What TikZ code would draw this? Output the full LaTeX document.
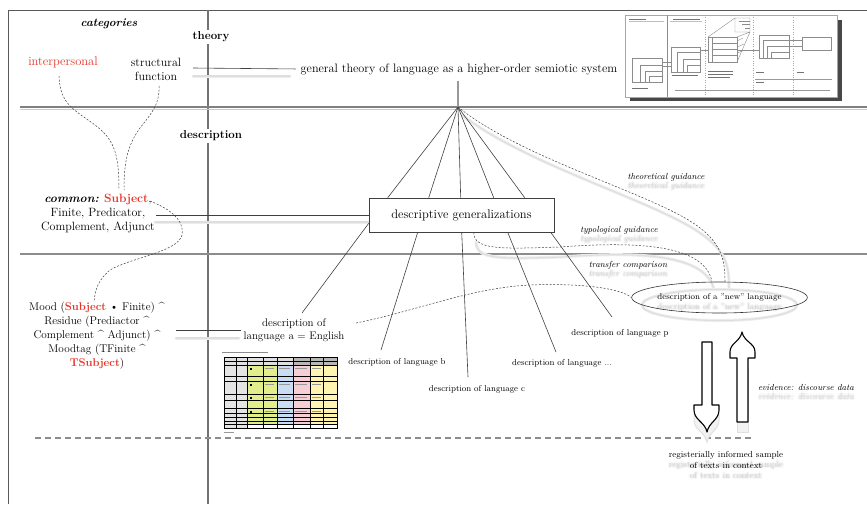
\documentclass[tikz,border=0pt]{standalone}
\usetikzlibrary{calc,shapes.geometric}
\definecolor{hired}{RGB}{228,52,40}
\definecolor{tgreen}{RGB}{226,238,140}
\definecolor{tblue}{RGB}{200,220,244}
\definecolor{tpink}{RGB}{248,206,214}
\definecolor{tyellow}{RGB}{255,244,176}
\definecolor{tgray}{RGB}{228,228,228}
% soft grey echo of a label, a few pixels below it
\newcommand\ghosttext[4]{%
  \foreach \gx/\gy [count=\gk] in {-1.1/0,1.1/0,0/-1.1,0/1.1,0/0}{%
    \node[#3,text=black!55,opacity=0.13] (#1\gk) at ($(#2)+(\gx,\gy)$) {#4};}}
\begin{document}
\begin{tikzpicture}[x=1pt,y=-1pt,
  txt/.style={font=\fontsize{12}{14}\selectfont, align=center, inner sep=1pt},
  lang/.style={font=\fontsize{8.6}{10}\selectfont, inner sep=1pt},
  guide/.style={font=\itshape\fontsize{8.8}{10}\selectfont, inner sep=1pt},
  hdr/.style={font=\bfseries\fontsize{11.5}{13}\selectfont, fill=white, inner sep=2pt},
  conn/.style={draw=black!75, line width=0.6pt},
  dlink/.style={draw=black!75, line width=0.5pt, dash pattern=on 2pt off 1.6pt},
  glow/.style={draw=black!7, line width=3pt, line cap=round},
  glowcore/.style={draw=black!13, line width=1.1pt, line cap=round},
  bigarrow/.style={draw=black, line width=1.1pt, fill=white, line join=round},
  thumb/.style={draw=black!45, line width=0.4pt},
  cellbar/.style={draw=black!40, line width=0.5pt},
]
\useasboundingbox (0,0) rectangle (867,504);
\fill[white] (0,0) rectangle (867,504);

% ---------- frame and dividers ----------
\draw[black!65, line width=0.8pt] (8,504) -- (8,10) -- (867,10);
\draw[black!55, line width=1.1pt] (208,10) -- (208,504);
\draw[black!20, line width=1pt] (20,109.5) -- (867,109.5);
\draw[black!50, line width=2pt] (20,107) -- (867,107);
\draw[black!45, line width=1.1pt] (20,254) -- (867,254);
\draw[black!45, line width=1.4pt, dash pattern=on 6pt off 4pt] (35,438) -- (751,438);

% ---------- model thumbnail ----------
\fill[black!72] (630,20) rectangle (842,101);
\filldraw[fill=white, draw=black!35, line width=0.4pt] (625,15) rectangle (837,97);
\draw[black!45, line width=0.4pt] (667,15) -- (667,97);
\draw[black!35, line width=0.4pt, dotted] (705,15) -- (705,97) (753,15) -- (753,97) (793,15) -- (793,97);
\draw[black!55, line width=0.8pt] (629,19) -- (646,19) (673,19) -- (700,19);
\draw[black!25, line width=0.4pt] (629,21.5) -- (664,21.5) (670,21.5) -- (702,21.5);
\draw[thumb] (632,58) rectangle (662,82) (640,65) rectangle (662,82) (645,71) rectangle (662,82) (649,76) rectangle (662,82);
\draw[thumb] (671,47) rectangle (700,72) (677,52) rectangle (700,72) (683,59) rectangle (700,72) (687,65) rectangle (700,72);
\draw[thumb] (662,62) -- (671,62) (662,66) -- (671,66);
\draw[thumb] (708,37) rectangle (737,62) (712,37) -- (712,62);
\draw[thumb] (712,43) -- (737,43) (712,49) -- (737,49) (712,55) -- (737,55);
\draw[thumb] (735,18) rectangle (750,32) (708,37) -- (735,18) (737,37) -- (750,32) (737,62) -- (750,32);
\draw[thumb] (739,21) -- (750,21) (742,24) -- (750,24) (745,28) -- (750,28);
\draw[thumb] (737,41) -- (743,38) (737,47) -- (744,44) (737,53) -- (745,50);
\draw[thumb] (700,50) -- (708,50) (737,50) -- (759,50);
\draw[thumb] (759,35) rectangle (789,58) (763,40) rectangle (789,58) (767,46) rectangle (789,58) (771,52) rectangle (789,58);
\draw[thumb] (789,40) -- (802,40) (789,46) -- (802,46);
\draw[thumb] (802,37) rectangle (831,50);
\draw[black!55, line width=0.8pt] (632,88) -- (648,88) (672,75) -- (698,75) (708,71) -- (733,71) (708,74) -- (733,74) (708,77) -- (730,77) (756,72) -- (764,72) (797,72) -- (804,72) (756,82) -- (764,82);
\draw[black!40, line width=0.4pt] (755,79) -- (832,79) (675,90) -- (830,90);

% ---------- English description table ----------
\draw[black!45, line width=0.6pt] (222,352) -- (268,352);
\fill[tgray] (224,357) rectangle (247,428);
\fill[tgreen] (247,365) rectangle (277,424);
\fill[tblue] (277,365) rectangle (293,424);
\fill[tpink] (293,365) rectangle (310,424);
\fill[tyellow] (310,365) rectangle (337,424);
\fill[black!28] (293,357) rectangle (337,365);
\fill[black!12] (224,357) rectangle (293,365);
\draw[black, line width=0.5pt] (224,357) rectangle (337,428);
\foreach \cx in {236,247,263,277,293,310,323}{\draw[black, line width=0.4pt] (\cx,357) -- (\cx,428);}
\foreach \ry in {361,365,376,381,394,400,408,413,417,421,424}{\draw[black, line width=0.4pt] (224,\ry) -- (337,\ry);}
\draw[black, line width=1pt] (224,365) -- (337,365) (224,417) -- (337,417) (224,424) -- (337,424);
\foreach \ry in {368,384,397,411}{
  \fill[black] (250,\ry) rectangle (252,\ry+1.5);
  \draw[cellbar] (265,\ry) -- (274,\ry) (279,\ry) -- (290,\ry) (295,\ry) -- (307,\ry) (312,\ry) -- (321,\ry);}
\draw[black!40, line width=0.5pt] (224,432) -- (234,432);

% ---------- soft echoes of lines and labels ----------
\draw[glow] (193,76) -- (290,76);
\draw[glowcore] (193,76) -- (290,76);
\draw[glow] (155,222) -- (369,222);
\draw[glowcore] (155,222) -- (369,222);
\draw[glow] (176,338) -- (239,338);
\draw[glowcore] (176,338) -- (239,338);
\draw[glow] (462,115) .. controls (524,163) and (644,198) .. (694,229) .. controls (726,249) and (729,264) .. (729,288);
\draw[glowcore] (462,115) .. controls (524,163) and (644,198) .. (694,229) .. controls (726,249) and (729,264) .. (729,288);
\draw[glow] (476,242) .. controls (476,260) and (502,259) .. (562,257) .. controls (642,251) and (707,255) .. (714,290);
\draw[glowcore] (476,242) .. controls (476,260) and (502,259) .. (562,257) .. controls (642,251) and (707,255) .. (714,290);
\draw[glow] (719.5,305) ellipse [x radius=77.5, y radius=15.5];
\draw[glowcore] (719.5,305) ellipse [x radius=77.5, y radius=15.5];
\filldraw[fill=black!5, draw=black!12, line width=1pt] (702,352) -- (712,352) -- (712,415) -- (719,415) -- (719,420) .. controls (719,430) and (709,432) .. (707,442) .. controls (705,432) and (694,430) .. (694,420) -- (694,415) -- (702,415) -- cycle;
\filldraw[fill=black!5, draw=black!12, line width=1pt] (737,432) -- (748,432) -- (748,368) -- (737,368) -- cycle;

\ghosttext{tgG}{666,186}{guide}{theoretical guidance}
\ghosttext{tygG}{619,239}{guide}{typological guidance}
\ghosttext{tcG}{628,274}{guide}{transfer comparison}
\ghosttext{evG}{806,396}{guide}{evidence: discourse data}
\ghosttext{newG}{719.5,307}{lang,font=\fontsize{8.4}{10}\selectfont}{description of a "new" language}
\ghosttext{smpG}{726,470}{lang,align=center,font=\fontsize{8.8}{11}\selectfont}{registerially informed sample\\of texts in context}

% ---------- labels ----------
\node[font=\bfseries\itshape\fontsize{11.5}{13}\selectfont] (cat) at (109,24) {categories};
\node[hdr] (thy) at (211,37) {theory};
\node[hdr] (dsc) at (211,136) {description};
\node[txt, text=hired, font=\fontsize{12.5}{14}\selectfont] (ip) at (63,62) {interpersonal};
\node[txt] (sf) at (156,69) {structural\\function};
\node[txt, font=\fontsize{12.2}{14}\selectfont] (gt) at (459,69) {general theory of language as a higher-order semiotic system};
\node[txt] (common) at (98,214) {\textbf{\textit{common:}} \textbf{\color{hired}Subject},\\Finite, Predicator,\\Complement, Adjunct};
\node[txt, font=\fontsize{12.5}{14}\selectfont, draw=black!75, line width=0.6pt, minimum width=185pt, minimum height=34pt, inner sep=0pt] (dg) at (461.5,215) {descriptive generalizations};
\node[txt, font=\fontsize{11.2}{14}\selectfont] (mood) at (97,336) {Mood (\textbf{\color{hired}Subject} \textbullet{} Finite) \textasciicircum\\Residue (Prediactor \textasciicircum\\Complement \textasciicircum{} Adjunct) \textasciicircum\\Moodtag (TFinite \textasciicircum\\\textbf{\color{hired}TSubject})};
\node[txt, font=\fontsize{11}{12.5}\selectfont] (la) at (294,330) {description of\\language a = English};
\node[lang] (lb) at (397,362) {description of language b};
\node[lang] (lc) at (477,389) {description of language c};
\node[lang] (ld) at (562,363) {description of language ...};
\node[lang] (lp) at (620,333) {description of language p};
\node[guide] (tg) at (666,177) {theoretical guidance};
\node[guide] (tyg) at (619,230) {typological guidance};
\node[guide] (tc) at (628,265) {transfer comparison};
\node[guide] (ev) at (806,387) {evidence: discourse data};
\node[lang, font=\fontsize{8.4}{10}\selectfont, ellipse, draw=black!80, line width=0.6pt, minimum width=155pt, minimum height=31pt, inner sep=0pt] (new) at (719.5,297.5) {description of a "new" language};
\node[lang, align=center, font=\fontsize{8.8}{11}\selectfont] (smp) at (726,460) {registerially informed sample\\of texts in context};

% ---------- connectors ----------
\coordinate (hub) at (458,107);
\coordinate (thyline) at (193,68);
\draw[black!40, line width=1.5pt] ($(gt.south -| hub)+(0,5)$) -- (hub);
\draw[conn, shorten >=4pt] (thyline) -- (gt.west);
\draw[conn] (common.east |- dg.west) -- (dg.west);
\coordinate (moodline) at (176,330);
\draw[conn, shorten >=1pt] (moodline) -- (la.west);
\foreach \dx in {19,60,92,125,156}{\draw[conn] (hub) -- ($(dg.north west)+(\dx,0)$);}
\coordinate (latop) at (302,313);
\coordinate (lbtop) at (381,350);
\coordinate (lctop) at (468,377);
\coordinate (ldtop) at (556,352);
\coordinate (lptop) at (612,317);
\draw[conn] ($(dg.south west)+(0,-9)$) -- (latop);
\draw[conn] ($(dg.south west)+(49,0)$) -- (lbtop);
\draw[conn] ($(dg.south west)+(93,0)$) -- (lctop);
\draw[conn] ($(dg.south west)+(139,0)$) -- (ldtop);
\draw[conn] ($(dg.south west)+(182,0)$) -- (lptop);

% dashed links between categories
\coordinate (ipfoot) at (59,76);
\coordinate (sffoot) at (159,86);
\coordinate (cm1) at (119,190);
\coordinate (cm2) at (124,190);
\draw[dlink] (ipfoot) .. controls (60,105) and (75,110) .. (95,125) .. controls (115,140) and (119,155) .. (cm1);
\draw[dlink] (sffoot) .. controls (160,105) and (150,115) .. (140,128) .. controls (128,145) and (124,160) .. (cm2);
\coordinate (subjend) at (150,201);
\coordinate (moodsubj) at (94,302);
\draw[dlink] (subjend) .. controls (178,212) and (184,225) .. (182,235) .. controls (178,252) and (130,258) .. (110,270) .. controls (98,280) and (95,290) .. (moodsubj);

% dashed guidance links
\draw[dlink] (hub) .. controls (520,157) and (640,190) .. (690,221) .. controls (722,241) and (725,260) .. ($(new.north)+(5.5,0)$);
\draw[dlink] ($(dg.south west)+(105,0)$) .. controls (474,250) and (500,249) .. (560,247) .. controls (640,241) and (705,245) .. ($(new.north)+(-7.5,0)$);
\coordinate (laend) at (356,323);
\draw[dlink] (laend) .. controls (420,310) and (470,288) .. (530,285) .. controls (580,283) and (620,288) .. (new.west);

% evidence arrows
\draw[bigarrow] (702,342) -- (712,342) -- (712,405) -- (719,405) -- (719,410) .. controls (719,420) and (709,422) .. (707,432) .. controls (705,422) and (694,420) .. (694,410) -- (694,405) -- (702,405) -- cycle;
\draw[bigarrow] (737,422) -- (748,422) -- (748,358) -- (755,358) -- (755,352) .. controls (755,343) and (744,342) .. (742,332) .. controls (740,342) and (730,343) .. (730,352) -- (730,358) -- (737,358) -- cycle;
\end{tikzpicture}
\end{document}
